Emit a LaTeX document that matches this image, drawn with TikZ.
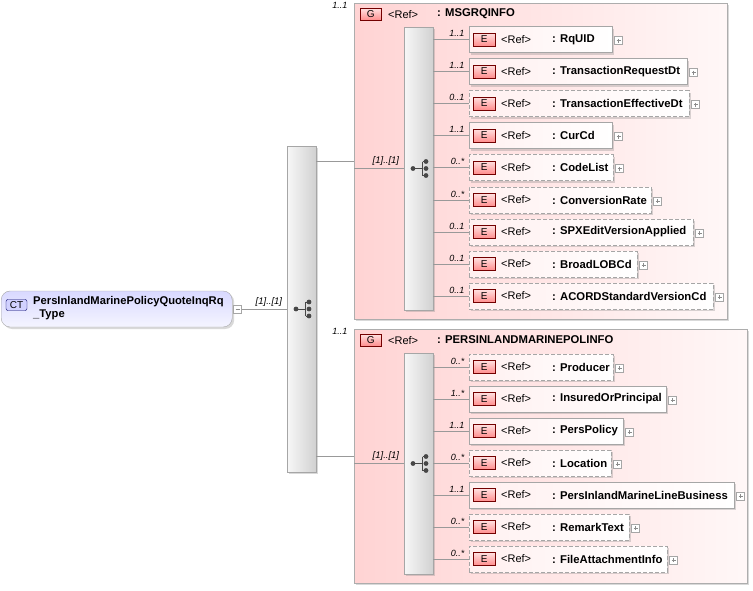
\documentclass[tikz,border=0pt]{standalone}
\usepackage{fontspec}
\setmainfont{Liberation Sans}
\usepackage{tikz}
\usetikzlibrary{calc,shapes,positioning}
\usetikzlibrary{shadows}
\tikzset{seqicon/.pic={
    \draw[line width=1pt, black!72] (-6.5,0) -- (3,0) (3,-7) -- (3,7)
      (3,-7) -- (6.5,-7) (3,7) -- (6.5,7);
    \fill[black!72] (-6.5,0) circle (2.4pt) (6.5,-7) circle (2.4pt)
      (6.5,0) circle (2.4pt) (6.5,7) circle (2.4pt);
  }}

\begin{document}
\begin{tikzpicture}[x=1pt,y=-1pt]
          \tikzstyle{shad} = [drop shadow={shadow xshift=2pt, shadow yshift=-2pt, opacity=0.3, fill=black!50}]
          \tikzstyle{grp} = [draw=black!32, left color=red!17, right color=red!3, inner sep=0pt, anchor=north west, shad]
          \tikzstyle{seqbox} = [draw=black!35, left color=black!3, right color=black!18, minimum width=29pt, inner sep=0pt, shad]
          \tikzstyle{elem} = [draw=black!35, left color=red!6, right color=white, minimum height=26pt, inner sep=0pt, anchor=west, shad]
          \tikzstyle{opt} = [dash pattern=on 4pt off 2pt]
          \tikzstyle{req} = [solid]
          \tikzstyle{ebadge} = [draw=red!45!black, top color=red!12, bottom color=red!45, minimum width=22pt, minimum height=13pt, inner sep=0pt, font=\fontsize{10}{10}\selectfont]
          \tikzstyle{reftext} = [inner sep=0pt, anchor=west, font=\fontsize{11}{13}\selectfont]
          \tikzstyle{nametext} = [inner sep=0pt, anchor=west, font=\fontsize{11.3}{13}\selectfont\bfseries]
          \tikzstyle{mult} = [inner sep=0.5pt, anchor=south east, font=\fontsize{9}{10}\selectfont\itshape]
          \tikzstyle{seqmult} = [inner sep=0.5pt, anchor=south east, font=\fontsize{9.5}{10}\selectfont\itshape]
          \tikzstyle{conn} = [draw=black!40, line width=0.7pt]
          \tikzstyle{plusbox} = [draw=black!35, fill=white, minimum size=8pt, inner sep=0pt, anchor=west,
            path picture={\draw[black!45, line width=0.5pt] ($(path picture bounding box.west)+(2,0)$) -- ($(path picture bounding box.east)+(-2,0)$) ($(path picture bounding box.north)+(0,2)$) -- ($(path picture bounding box.south)+(0,-2)$);}]
          \tikzstyle{minusbox} = [draw=black!35, fill=white, minimum size=8pt, inner sep=0pt, anchor=west,
            path picture={\draw[black!45, line width=0.5pt] ($(path picture bounding box.west)+(2,0)$) -- ($(path picture bounding box.east)+(-2,0)$);}]
          \tikzstyle{ctbox} = [draw=black!35, top color=blue!15, bottom color=blue!4, rounded corners=9pt, inner sep=0pt, shad]
          \tikzstyle{ctbadge} = [draw=blue!40!black, fill=blue!18, rounded corners=2pt, minimum width=21pt, minimum height=11pt, inner sep=0pt, font=\fontsize{10}{10}\selectfont]
          \tikzstyle{cttext} = [inner sep=0pt, align=left, font=\fontsize{11.2}{12.5}\selectfont\bfseries]

          \useasboundingbox (0,0) rectangle (753,590);

          % groups and sequences
          \node[grp, minimum width=373pt, minimum height=316pt] (g1) at (354,3) {};
          \node[grp, minimum width=393pt, minimum height=254pt] (g2) at (354,329) {};
          \node[seqbox, minimum height=326pt] (s0) at (301.5,309) {};
          \node[seqbox, minimum height=283pt] (s1) at (418.5,168.5) {};
          \node[seqbox, minimum height=221pt] (s2) at (418.5,463.5) {};
          \pic at ($(s0)+(1,0)$) {seqicon};
          \pic at ($(s1)+(1,0)$) {seqicon};
          \pic at ($(s2)+(1,0)$) {seqicon};

          % complex type
          \node[ctbox, minimum width=231pt, minimum height=36pt, anchor=west] (ct) at (1,309) {};
          \node[ctbadge] (ctb) at (16.5,305) {CT};
          \node[cttext, anchor=west] (ctt) at (33,308) {PersInlandMarinePolicyQuoteInqRq\\\_Type};
          \node[minusbox] (ctm) at ($(ct.east)+(1,0)$) {};
          \draw[conn] (ctm.east) -- (s0.west);
          \node[seqmult] (l0) at ($(s0.west)+(-4,-2)$) {[1]..[1]};

          % group headers
          \node[mult, anchor=north east] (g1m) at ($(g1.north west)+(-6,-1)$) {1..1};
          \node[ebadge, minimum width=21pt, minimum height=12pt, anchor=north west] (g1b) at ($(g1.north west)+(6,5)$) {G};
          \node[reftext] (g1r) at ($(g1b.west)+(28,0)$) {<Ref>};
          \node[nametext] (g1n) at ($(g1.north west)+(83,11)$) {: MSGRQINFO};
          \node[mult, anchor=north east] (g2m) at ($(g2.north west)+(-6,-1)$) {1..1};
          \node[ebadge, minimum width=21pt, minimum height=12pt, anchor=north west] (g2b) at ($(g2.north west)+(6,5)$) {G};
          \node[reftext] (g2r) at ($(g2b.west)+(28,0)$) {<Ref>};
          \node[nametext] (g2n) at ($(g2.north west)+(83,11)$) {: PERSINLANDMARINEPOLINFO};

          \draw[conn] (s0.east |- g1.west) -- (g1.west);
          \draw[conn] (g1.west |- s1.west) -- (s1.west);
          \node[seqmult] (l1) at ($(s1.west)+(-4,-2)$) {[1]..[1]};
          \draw[conn] (s0.east |- g2.west) -- (g2.west);
          \draw[conn] (g2.west |- s2.west) -- (s2.west);
          \node[seqmult] (l2) at ($(s2.west)+(-4,-2)$) {[1]..[1]};

          % elements of MSGRQINFO
          \foreach \i/\nm/\yy/\w/\bd/\mlt in {
              1/RqUID/39.5/143/req/1..1,
              2/TransactionRequestDt/71.5/218/req/1..1,
              3/TransactionEffectiveDt/103.5/220/opt/0..1,
              4/CurCd/135.5/143/req/1..1,
              5/CodeList/167.5/144/opt/0..*,
              6/ConversionRate/200/182/opt/0..*,
              7/SPXEditVersionApplied/232/224/opt/0..1,
              8/BroadLOBCd/264/168/opt/0..1,
              9/ACORDStandardVersionCd/296/244/opt/0..1}
          {
            \node[elem, \bd, minimum width=\w pt] (a\i) at (469,\yy) {};
            \node[ebadge, anchor=west] (ab\i) at ($(a\i.west)+(4,0)$) {E};
            \node[reftext] (ar\i) at ($(a\i.west)+(32,0)$) {<Ref>};
            \node[nametext] (an\i) at ($(a\i.west)+(83,0)$) {: \nm};
            \node[plusbox] (ap\i) at ($(a\i.east)+(2,1)$) {};
            \node[mult] (am\i) at ($(a\i.west)+(-4,-2)$) {\mlt};
            \draw[conn] (s1.east |- a\i.west) -- (a\i.west);
          }

          % elements of PERSINLANDMARINEPOLINFO
          \foreach \i/\nm/\yy/\w/\bd/\mlt in {
              1/Producer/367/144/opt/0..*,
              2/InsuredOrPrincipal/399/197/req/1..*,
              3/PersPolicy/431/154/req/1..1,
              4/Location/463/142/opt/0..*,
              5/PersInlandMarineLineBusiness/495/265/req/1..1,
              6/RemarkText/527/160/opt/0..*,
              7/FileAttachmentInfo/559/198/opt/0..*}
          {
            \node[elem, \bd, minimum width=\w pt] (b\i) at (469,\yy) {};
            \node[ebadge, anchor=west] (bb\i) at ($(b\i.west)+(4,0)$) {E};
            \node[reftext] (br\i) at ($(b\i.west)+(32,0)$) {<Ref>};
            \node[nametext] (bn\i) at ($(b\i.west)+(83,0)$) {: \nm};
            \node[plusbox] (bp\i) at ($(b\i.east)+(2,1)$) {};
            \node[mult] (bm\i) at ($(b\i.west)+(-4,-2)$) {\mlt};
            \draw[conn] (s2.east |- b\i.west) -- (b\i.west);
          }
        \end{tikzpicture}
\end{document}
